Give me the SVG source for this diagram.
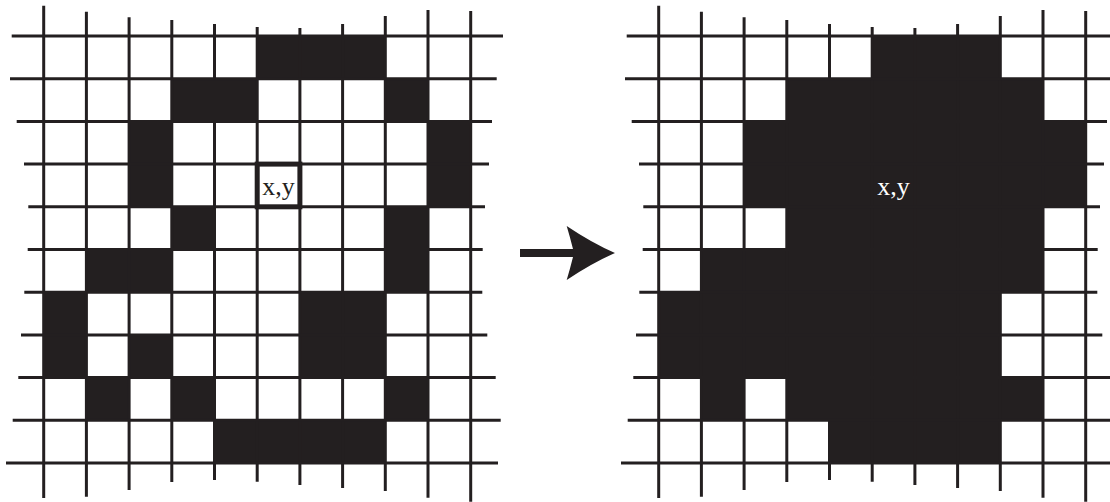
<svg xmlns="http://www.w3.org/2000/svg" xmlns:xlink="http://www.w3.org/1999/xlink" width="1110" height="502" viewBox="0 0 1110 502">
<style>
.ln{stroke:#231f20;stroke-width:3;fill:none}
.cell{fill:#231f20}
.box{stroke:#231f20;stroke-width:5;fill:#ffffff}
.lbl{font-family:"Liberation Serif","Times New Roman",serif;font-size:26px;text-anchor:middle}
</style>
<defs>
<g id="gridLines" class="ln">
<line x1="43.7" y1="5.7" x2="43.7" y2="498"/>
<line x1="86.4" y1="11.7" x2="86.4" y2="496.7"/>
<line x1="129.1" y1="17.3" x2="129.1" y2="490"/>
<line x1="171.8" y1="20" x2="171.8" y2="482"/>
<line x1="214.5" y1="24" x2="214.5" y2="480"/>
<line x1="257.2" y1="27" x2="257.2" y2="481.7"/>
<line x1="299.9" y1="28" x2="299.9" y2="485"/>
<line x1="342.6" y1="24" x2="342.6" y2="488"/>
<line x1="385.3" y1="16" x2="385.3" y2="491"/>
<line x1="428" y1="10" x2="428" y2="497.7"/>
<line x1="470.7" y1="11" x2="470.7" y2="501.7"/>
<line x1="11.7" y1="36" x2="503" y2="36"/>
<line x1="10" y1="78.7" x2="496.7" y2="78.7"/>
<line x1="16.7" y1="121.4" x2="492" y2="121.4"/>
<line x1="24" y1="164.1" x2="489" y2="164.1"/>
<line x1="28.3" y1="206.8" x2="485" y2="206.8"/>
<line x1="27.7" y1="249.5" x2="482.7" y2="249.5"/>
<line x1="24.3" y1="292.2" x2="482.3" y2="292.2"/>
<line x1="21" y1="334.9" x2="487.3" y2="334.9"/>
<line x1="18.3" y1="377.6" x2="495.7" y2="377.6"/>
<line x1="12.7" y1="420.3" x2="500.7" y2="420.3"/>
<line x1="6" y1="463" x2="498" y2="463"/>
</g>
</defs>
<rect x="0" y="0" width="1110" height="502" fill="#ffffff"/>
<g id="left-grid">
<g id="left-cells" class="cell">
<rect x="257.2" y="36" width="128.1" height="42.7"/>
<rect x="171.8" y="78.7" width="85.4" height="42.7"/>
<rect x="385.3" y="78.7" width="42.7" height="42.7"/>
<rect x="129.1" y="121.4" width="42.7" height="85.4"/>
<rect x="428" y="121.4" width="42.7" height="85.4"/>
<rect x="171.8" y="206.8" width="42.7" height="42.7"/>
<rect x="385.3" y="206.8" width="42.7" height="85.4"/>
<rect x="86.4" y="249.5" width="85.4" height="42.7"/>
<rect x="43.7" y="292.2" width="42.7" height="85.4"/>
<rect x="299.9" y="292.2" width="85.4" height="85.4"/>
<rect x="129.1" y="334.9" width="42.7" height="42.7"/>
<rect x="86.4" y="377.6" width="42.7" height="42.7"/>
<rect x="171.8" y="377.6" width="42.7" height="42.7"/>
<rect x="385.3" y="377.6" width="42.7" height="42.7"/>
<rect x="214.5" y="420.3" width="170.8" height="42.7"/>
</g>
<use xlink:href="#gridLines" href="#gridLines"/>
<g id="left-seed">
<rect class="box" x="257.2" y="164.1" width="42.7" height="42.7"/>
<text class="lbl" x="278.5" y="195" fill="#231f20">x,y</text>
</g>
</g>
<g id="connectors">
<path id="arrow" d="M520,249 L573,249 Q570,237 566.7,226 Q592,243 615,253 Q592,263 566.7,280 Q570,269 573,257 L520,257 Z" fill="#231f20"/>
</g>
<g id="right-grid">
<path id="right-fill" class="cell" d="M872.2,36 L1000.3,36 L1000.3,78.7 L1043,78.7 L1043,121.4 L1085.7,121.4 L1085.7,206.8 L1043,206.8 L1043,292.2 L1000.3,292.2 L1000.3,377.6 L1043,377.6 L1043,420.3 L1000.3,420.3 L1000.3,463 L829.5,463 L829.5,420.3 L786.8,420.3 L786.8,377.6 L744.1,377.6 L744.1,420.3 L701.4,420.3 L701.4,377.6 L658.7,377.6 L658.7,292.2 L701.4,292.2 L701.4,249.5 L786.8,249.5 L786.8,206.8 L744.1,206.8 L744.1,121.4 L786.8,121.4 L786.8,78.7 L872.2,78.7 Z"/>
<use xlink:href="#gridLines" href="#gridLines" transform="translate(615,0)"/>
<text class="lbl" x="893.5" y="195" fill="#ffffff">x,y</text>
</g>
</svg>
